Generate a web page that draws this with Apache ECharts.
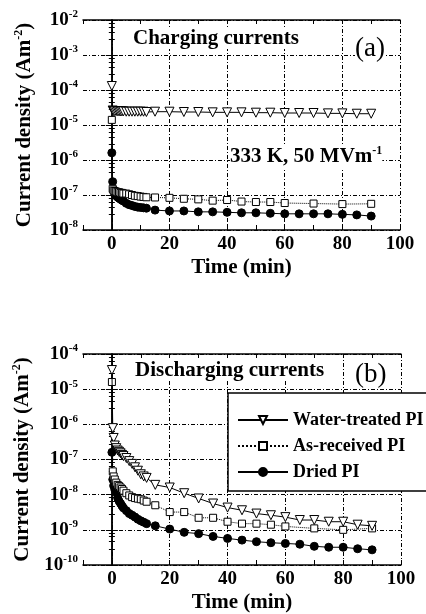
<!DOCTYPE html>
<html>
<head>
<meta charset="UTF-8" />
<title>Charging / discharging currents</title>
<script src="https://cdn.jsdelivr.net/npm/echarts@6/dist/echarts.min.js"></script>
<style>
    html, body { margin: 0; padding: 0; background: #fff; }
    #main { width: 426px; height: 614px; }
</style>
</head>
<body>
<div id="main"></div>
<script>
// time axis (min)
var timeDense = [0, 0.3, 0.6, 1, 1.5, 2, 2.5, 3, 3.5, 4, 5, 6, 7, 8, 9, 10, 11, 12];
var timeEvery5 = [15, 20, 25, 30, 35, 40, 45, 50, 55, 60, 65, 70, 75, 80, 85, 90];
var timeAsRec = [15, 20, 25, 30, 35, 40, 45, 50, 55, 60, 70, 80, 90];

// (a) charging currents, A/m2
var chgWaterDense = [1.3e-4, 2.6e-5, 2.5e-5, 2.5e-5, 2.5e-5, 2.5e-5, 2.45e-5, 2.45e-5, 2.45e-5, 2.45e-5, 2.4e-5, 2.4e-5, 2.4e-5, 2.4e-5, 2.4e-5, 2.4e-5, 2.4e-5, 2.35e-5];
var chgWaterLate = [2.4e-5, 2.4e-5, 2.35e-5, 2.35e-5, 2.3e-5, 2.3e-5, 2.3e-5, 2.25e-5, 2.25e-5, 2.2e-5, 2.2e-5, 2.2e-5, 2.15e-5, 2.15e-5, 2.1e-5, 2.1e-5];
var chgAsRecDense = [1.4e-5, 1.5e-7, 1.35e-7, 1.3e-7, 1.25e-7, 1.2e-7, 1.2e-7, 1.15e-7, 1.15e-7, 1.1e-7, 1.1e-7, 1.05e-7, 1.0e-7, 9.5e-8, 9.3e-8, 9e-8, 8.8e-8, 8.6e-8];
var chgAsRecLate = [8.5e-8, 8.3e-8, 7.8e-8, 7.5e-8, 6.9e-8, 7.2e-8, 6.5e-8, 6.3e-8, 6.3e-8, 5.9e-8, 5.7e-8, 5.5e-8, 5.6e-8];
var chgDriedDense = [1.6e-6, 2.4e-7, 1.4e-7, 1.1e-7, 9.5e-8, 8.7e-8, 8.1e-8, 7.6e-8, 7.1e-8, 6.7e-8, 5.8e-8, 5.3e-8, 5e-8, 4.7e-8, 4.5e-8, 4.4e-8, 4.3e-8, 4.2e-8];
var chgDriedLate = [3.7e-8, 3.5e-8, 3.5e-8, 3.3e-8, 3.3e-8, 3.2e-8, 3.1e-8, 3.1e-8, 3.0e-8, 2.9e-8, 2.9e-8, 2.9e-8, 2.9e-8, 2.8e-8, 2.7e-8, 2.5e-8];

// (b) discharging currents, A/m2
var disWaterDense = [3.5e-5, 7.8e-7, 4.1e-7, 2.5e-7, 2.1e-7, 1.8e-7, 1.65e-7, 1.5e-7, 1.35e-7, 1.25e-7, 1.1e-7, 9e-8, 7.5e-8, 6e-8, 4.8e-8, 3.8e-8, 3.3e-8, 3e-8];
var disWaterLate = [1.9e-8, 1.6e-8, 1.1e-8, 7.8e-9, 5.6e-9, 4.3e-9, 3.6e-9, 2.9e-9, 2.6e-9, 2.3e-9, 1.9e-9, 1.9e-9, 1.7e-9, 1.7e-9, 1.4e-9, 1.3e-9];
var disAsRecDense = [1.6e-5, 4.6e-8, 3.3e-8, 2.7e-8, 2.2e-8, 1.9e-8, 1.75e-8, 1.6e-8, 1.45e-8, 1.3e-8, 1.1e-8, 9.5e-9, 8.5e-9, 8e-9, 7.7e-9, 7.4e-9, 6.8e-9, 6.3e-9];
var disAsRecLate = [5e-9, 3.2e-9, 3.2e-9, 2.2e-9, 2.2e-9, 1.7e-9, 1.5e-9, 1.5e-9, 1.4e-9, 1.25e-9, 1.1e-9, 1.0e-9, 1.1e-9];
var disDriedDense = [1.6e-7, 2.7e-8, 1.8e-8, 1.4e-8, 1.15e-8, 8e-9, 6.5e-9, 5.6e-9, 4.8e-9, 4.2e-9, 3.5e-9, 2.9e-9, 2.6e-9, 2.3e-9, 2e-9, 1.8e-9, 1.65e-9, 1.5e-9];
var disDriedLate = [1.3e-9, 1.05e-9, 8.5e-10, 7.8e-10, 6.5e-10, 5.7e-10, 5.1e-10, 4.6e-10, 4.3e-10, 4.1e-10, 3.9e-10, 3.4e-10, 3.2e-10, 3.2e-10, 2.9e-10, 2.7e-10];

var seriesNames = ['Water-treated PI', 'As-received PI', 'Dried PI'];
var xTicks = [0, 20, 40, 60, 80, 100];

var FONT = 'Liberation Serif';

function pairs(t1, v1, t2, v2) {
    var out = [];
    for (var i = 0; i < t1.length; i++) out.push([t1[i], v1[i]]);
    for (var j = 0; j < t2.length; j++) out.push([t2[j], v2[j]]);
    return out;
}

function styleFor(k) {
    if (k == 0) return {
        symbol: 'triangle', symbolRotate: 180, symbolSize: 9,
        itemStyle: { color: '#fff', borderColor: '#000', borderWidth: 1 },
        lineStyle: { color: '#000', width: 1, type: 'solid' }
    };
    if (k == 1) return {
        symbol: 'rect', symbolSize: 7,
        itemStyle: { color: '#fff', borderColor: '#000', borderWidth: 1 },
        lineStyle: { color: '#000', width: 1, type: 'dotted' }
    };
    return {
        symbol: 'circle', symbolSize: 8,
        itemStyle: { color: '#000', borderColor: '#000', borderWidth: 1 },
        lineStyle: { color: '#000', width: 1, type: 'solid' }
    };
}

function mkSeries(k, gi, data) {
    var s = styleFor(k);
    s.name = seriesNames[k];
    s.type = 'line';
    s.xAxisIndex = gi;
    s.yAxisIndex = gi;
    s.data = data;
    s.showAllSymbol = true;
    s.animation = false;
    s.z = 3 - k;
    return s;
}

var supRich = {
    b: { fontFamily: FONT, fontSize: 19, fontWeight: 'bold', color: '#000', lineHeight: 22 },
    s: { fontFamily: FONT, fontSize: 11, fontWeight: 'bold', color: '#000', lineHeight: 11, verticalAlign: 'top' }
};

function xBottom(gi) {
    return {
        type: 'value', gridIndex: gi, min: -10, max: 100, interval: 10,
        name: 'Time (min)', nameLocation: 'middle', nameGap: 27,
        nameTextStyle: { fontFamily: FONT, fontSize: 21, fontWeight: 'bold', color: '#000' },
        axisLine: { lineStyle: { color: '#000', width: 1.5 } },
        axisTick: { inside: true, length: 5, lineStyle: { color: '#000' } },
        axisLabel: {
            margin: 5, fontFamily: FONT, fontSize: 19, fontWeight: 'bold', color: '#000',
            formatter: function(v) { return xTicks.indexOf(v) >= 0 ? String(v) : ''; }
        },
        splitLine: {
            show: true,
            // every second tick line (0, 20, 40 ...) is drawn
            lineStyle: { color: ['rgba(0,0,0,0)', '#000'], width: 1, type: [4, 2, 1, 2] }
        }
    };
}

function xTop(gi) {
    return {
        type: 'value', gridIndex: gi, position: 'top', min: -10, max: 100, interval: 10,
        axisLine: { lineStyle: { color: '#000', width: 1.5 } },
        axisTick: { inside: true, length: 4, lineStyle: { color: '#000' } },
        axisLabel: { show: false }, splitLine: { show: false }
    };
}

function yLeft(gi, lo, hi) {
    return {
        type: 'log', logBase: 10, gridIndex: gi, min: lo, max: hi, interval: 1,
        name: '{a|Current density (Am}{s|-2}{a|)}', nameLocation: 'middle', nameGap: 46,
        nameTextStyle: {
            rich: {
                a: { fontFamily: FONT, fontSize: 21, fontWeight: 'bold', color: '#000', lineHeight: 24 },
                s: { fontFamily: FONT, fontSize: 12, fontWeight: 'bold', color: '#000', lineHeight: 12, verticalAlign: 'top' }
            }
        },
        axisLine: { lineStyle: { color: '#000', width: 1.5 } },
        axisTick: { inside: true, length: 6, lineStyle: { color: '#000' } },
        minorTick: { show: true, splitNumber: 5, length: 3, lineStyle: { color: '#000' } },
        axisLabel: {
            margin: 5,
            formatter: function(v) {
                var e = Math.round(Math.log(v) / Math.LN10);
                return '{b|10}{s|' + e + '}';
            },
            rich: supRich
        },
        splitLine: { show: true, lineStyle: { color: '#000', width: 1, type: [4, 2, 1, 2] } }
    };
}

function yRight(gi, lo, hi) {
    return {
        type: 'log', logBase: 10, gridIndex: gi, position: 'right', min: lo, max: hi, interval: 1,
        axisLine: { show: true, lineStyle: { color: '#000', width: 1.5 } },
        axisTick: { inside: true, length: 6, lineStyle: { color: '#000' } },
        minorTick: { show: true, splitNumber: 5, length: 3, lineStyle: { color: '#000' } },
        axisLabel: { show: false }, splitLine: { show: false }
    };
}

var myChart = echarts.init(document.getElementById('main'), null, { renderer: 'canvas' });

myChart.setOption({
    backgroundColor: '#fff',
    animation: false,
    grid: [
        { left: 83, top: 20, width: 317, height: 210 },
        { left: 83, top: 354, width: 318, height: 213 }
    ],
    xAxis: [xBottom(0), xBottom(1), xTop(0), xTop(1)],
    yAxis: [yLeft(0, 1e-8, 1e-2), yLeft(1, 1e-10, 1e-4), yRight(0, 1e-8, 1e-2), yRight(1, 1e-10, 1e-4)],
    legend: {
        data: seriesNames,
        orient: 'vertical',
        left: 228, top: 393,
        padding: [18, 20, 10, 9],
        itemGap: 8,
        itemWidth: 50, itemHeight: 10,
        backgroundColor: '#fff',
        borderColor: '#000', borderWidth: 1.5, borderRadius: 0,
        textStyle: { fontFamily: FONT, fontSize: 18, fontWeight: 'bold', color: '#000' }
    },
    graphic: [
        { type: 'text', left: 133, top: 28, z: 10,
          style: { text: 'Charging currents', fontFamily: FONT, fontSize: 21, fontWeight: 'bold', fill: '#000', backgroundColor: '#fff' } },
        { type: 'text', left: 355, top: 35, z: 10,
          style: { text: '(a)', fontFamily: FONT, fontSize: 27, fill: '#000', backgroundColor: '#fff' } },
        { type: 'text', left: 230, top: 145, z: 10,
          style: {
              text: '{a|333 K, 50 MVm}{s|-1}',
              backgroundColor: '#fff',
              rich: {
                  a: { fontFamily: FONT, fontSize: 21, fontWeight: 'bold', fill: '#000', lineHeight: 24 },
                  s: { fontFamily: FONT, fontSize: 12, fontWeight: 'bold', fill: '#000', lineHeight: 12, verticalAlign: 'top' }
              }
          } },
        { type: 'text', left: 135, top: 360, z: 10,
          style: { text: 'Discharging currents', fontFamily: FONT, fontSize: 21, fontWeight: 'bold', fill: '#000', backgroundColor: '#fff' } },
        { type: 'text', left: 355, top: 361, z: 10,
          style: { text: '(b)', fontFamily: FONT, fontSize: 27, fill: '#000', backgroundColor: '#fff' } }
    ],
    series: [
        mkSeries(0, 0, pairs(timeDense, chgWaterDense, timeEvery5, chgWaterLate)),
        mkSeries(1, 0, pairs(timeDense, chgAsRecDense, timeAsRec, chgAsRecLate)),
        mkSeries(2, 0, pairs(timeDense, chgDriedDense, timeEvery5, chgDriedLate)),
        mkSeries(0, 1, pairs(timeDense, disWaterDense, timeEvery5, disWaterLate)),
        mkSeries(1, 1, pairs(timeDense, disAsRecDense, timeAsRec, disAsRecLate)),
        mkSeries(2, 1, pairs(timeDense, disDriedDense, timeEvery5, disDriedLate))
    ]
});
</script>
</body>
</html>
